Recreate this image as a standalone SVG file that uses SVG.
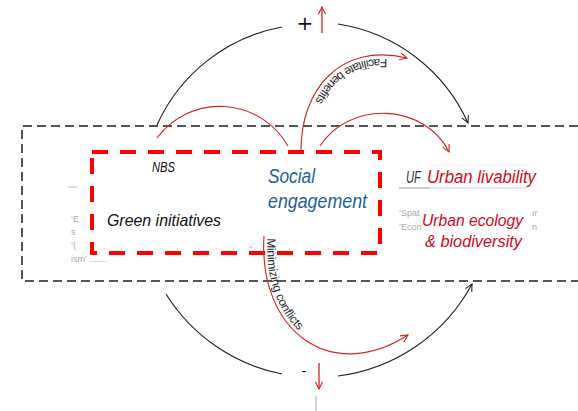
<svg xmlns="http://www.w3.org/2000/svg" width="578" height="411" viewBox="0 0 578 411">
<style>
  .lbl{font-family:"Liberation Sans",Arial,sans-serif;font-style:italic}
  .blk{fill:#111}
  .red{fill:#d2091b}
  .blue{fill:#1f5e9e}
  .faint{font-family:"Liberation Sans",Arial,sans-serif;font-size:9px;fill:#aaa}
  .path-lbl{font-family:"Liberation Sans",Arial,sans-serif;font-size:12px;fill:#2a2a2a}
  .black-arc{fill:none;stroke:#222;stroke-width:1.1}
  .red-arc{fill:none;stroke:#d02428;stroke-width:1.1}
</style>
<defs>
  <marker id="ah-black" viewBox="0 0 10 10" refX="9" refY="5" markerWidth="9" markerHeight="9" markerUnits="userSpaceOnUse" orient="auto">
    <path d="M1,1 L9,5 L1,9" fill="none" stroke="#222" stroke-width="1.2"/>
  </marker>
  <marker id="ah-red" viewBox="0 0 10 10" refX="9" refY="5" markerWidth="9" markerHeight="9" markerUnits="userSpaceOnUse" orient="auto">
    <path d="M1,1 L9,5 L1,9" fill="none" stroke="#d02428" stroke-width="1.2"/>
  </marker>
  <path id="p-facilitate" d="M407,58 C340,42 301,90 301,150"/>
  <path id="p-minimizing" d="M264,236 C258,330 330,385 408,335"/>
</defs>
<rect width="578" height="411" fill="#fff"/>

<g id="frame">
  <path d="M578,126 H22 V281 H578" fill="none" stroke="#555" stroke-width="2" stroke-dasharray="9,5"/>
</g>

<g id="background-fragments">
  <line x1="68" y1="187" x2="77" y2="187" stroke="#bbb" stroke-width="1"/>
  <text class="faint" x="71" y="222">‘E</text>
  <text class="faint" x="71" y="235">s</text>
  <text class="faint" x="71" y="248">‘(</text>
  <text class="faint" x="71" y="262">ism’ .......</text>
  <line x1="249" y1="247" x2="253" y2="247" stroke="#bbb" stroke-width="1"/>
  <line x1="427" y1="165" x2="528" y2="165" stroke="#f0f0f0" stroke-width="1"/>
  <line x1="399" y1="188" x2="430" y2="188" stroke="#aaa" stroke-width="1.2"/>
  <line x1="430" y1="188" x2="528" y2="188" stroke="#d4d4d4" stroke-width="1.2"/>
  <text class="faint" x="399" y="216">‘Spat</text>
  <text class="faint" x="399" y="230">‘Econ</text>
  <text class="faint" x="532" y="216">ır</text>
  <text class="faint" x="532" y="230">n</text>
  <line x1="316" y1="396" x2="316" y2="411" stroke="#aaa" stroke-width="1"/>
</g>

<g id="nbs">
  <rect x="92" y="152" width="288" height="101" fill="none" stroke="#ff0000" stroke-width="4" stroke-dasharray="16,12"/>
  <text class="lbl blk" x="152" y="172" font-size="14" textLength="23" lengthAdjust="spacingAndGlyphs">NBS</text>
</g>

<g id="green-initiatives">
  <text class="lbl blk" x="107" y="226" font-size="17" textLength="114" lengthAdjust="spacingAndGlyphs">Green initiatives</text>
</g>

<g id="social-engagement">
  <text class="lbl blue" x="268" y="183" font-size="20" textLength="47" lengthAdjust="spacingAndGlyphs">Social</text>
  <text class="lbl blue" x="268" y="208" font-size="20" textLength="99" lengthAdjust="spacingAndGlyphs">engagement</text>
</g>

<g id="urban-livability">
  <text class="lbl" x="406" y="183" font-size="17" fill="#333" textLength="15" lengthAdjust="spacingAndGlyphs">UF</text>
  <text class="lbl red" x="427" y="183" font-size="17.5" textLength="109" lengthAdjust="spacingAndGlyphs">Urban livability</text>
</g>

<g id="urban-ecology">
  <text class="lbl red" x="422" y="226" font-size="17" textLength="101" lengthAdjust="spacingAndGlyphs">Urban ecology</text>
  <text class="lbl red" x="425" y="247" font-size="17" textLength="97" lengthAdjust="spacingAndGlyphs">&amp; biodiversity</text>
</g>

<g id="positive-sign">
  <text x="305" y="30" font-family="DejaVu Sans,sans-serif" font-size="20" fill="#111" text-anchor="middle">+</text>
  <line x1="322" y1="33" x2="322" y2="7" stroke="#d02428" stroke-width="1.3" marker-end="url(#ah-red)"/>
</g>

<g id="negative-sign">
  <text x="304" y="376" font-family="DejaVu Sans,sans-serif" font-size="14" fill="#111" text-anchor="middle">-</text>
  <line x1="319" y1="363" x2="319" y2="389" stroke="#d02428" stroke-width="1.3" marker-end="url(#ah-red)"/>
</g>

<g id="connectors">
  <path class="black-arc" d="M157,125 A171,171 0 0 1 282,27"/>
  <path class="black-arc" d="M338,24 A171,171 0 0 1 468,123" marker-end="url(#ah-black)"/>
  <path class="black-arc" d="M166,294 A177,177 0 0 0 282,374"/>
  <path class="black-arc" d="M338,376 A177,177 0 0 0 472,284" marker-end="url(#ah-black)"/>
  <path class="red-arc" d="M157,138 A78.4,78.4 0 0 1 288,146"/>
  <path class="red-arc" d="M320,146 A72,64 0 0 1 449,152" marker-end="url(#ah-red)"/>
  <path class="red-arc" d="M301,150 C301,90 340,42 407,58" marker-end="url(#ah-red)"/>
  <path class="red-arc" d="M264,236 C258,330 330,385 408,335" marker-end="url(#ah-red)"/>
  <text class="path-lbl"><textPath href="#p-facilitate" startOffset="20"><tspan dy="-4">Facilitate benefits</tspan></textPath></text>
  <text class="path-lbl"><textPath href="#p-minimizing" startOffset="2"><tspan dy="-3.5">Minimizing conflicts</tspan></textPath></text>
</g>
</svg>
